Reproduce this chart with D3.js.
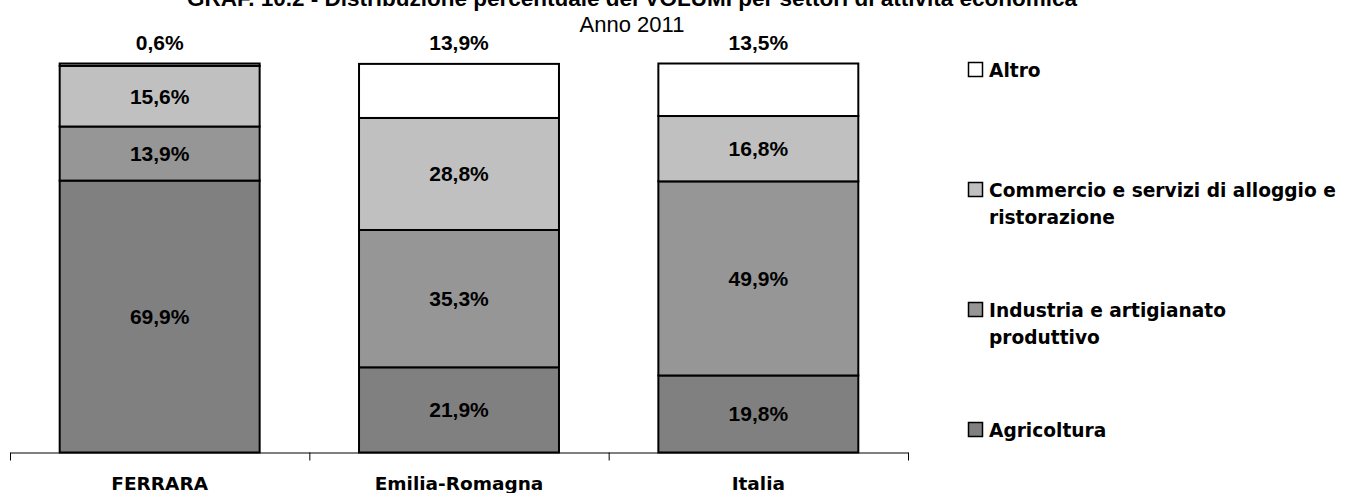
<!DOCTYPE html>
<html lang="it">
<head>
<meta charset="utf-8">
<script src="https://cdn.jsdelivr.net/npm/d3@7/dist/d3.min.js"></script>
<style>
  html, body { margin: 0; padding: 0; background: #fff; }
  svg { display: block; }
</style>
</head>
<body>
<svg id="chart" width="1345" height="493"></svg>
<script>
// Territori confrontati
const categories = ["FERRARA", "Emilia-Romagna", "Italia"];

// Settori, dal basso verso l'alto della pila
const sectors = ["Agricoltura", "Industria e artigianato produttivo", "Commercio e servizi di alloggio e ristorazione", "Altro"];

// Quote percentuali per settore (ordine come categories)
const agricoltura = [69.9, 21.9, 19.8];
const industria   = [13.9, 35.3, 49.9];
const commercio   = [15.6, 28.8, 16.8];
const altro       = [0.6, 13.9, 13.5];

const sectorColors = ["#808080", "#969696", "#c0c0c0", "#ffffff"];

// Righe della legenda, dall'alto
const legendLines = [
  ["Altro"],
  ["Commercio e servizi di alloggio e", "ristorazione"],
  ["Industria e artigianato", "produttivo"],
  ["Agricoltura"]
];
const legendFills = ["#ffffff", "#c0c0c0", "#969696", "#808080"];

const titleText = "GRAF. 10.2 - Distribuzione percentuale dei VOLUMI per settori di attività economica";
const subtitleText = "Anno 2011";

const fmt = v => d3.format(".1f")(v).replace(".", ",") + "%";

const svg = d3.select("#chart");

const plotLeft = 10, plotRight = 908, plotTop = 63.5, plotBottom = 452.5;

const x = d3.scaleBand().domain(categories).range([plotLeft, plotRight]).padding(0);
const barW = x.bandwidth() * 0.668;
const y = d3.scaleLinear().domain([0, 100]).range([plotBottom, plotTop]);

// Titolo e sottotitolo
svg.append("text")
  .attr("x", 632).attr("y", 6)
  .attr("text-anchor", "middle")
  .attr("font-family", "'Liberation Sans', Arial, sans-serif")
  .attr("font-weight", "bold").attr("font-size", 22.5)
  .text(titleText);
svg.append("text")
  .attr("x", 632).attr("y", 32)
  .attr("text-anchor", "middle")
  .attr("font-family", "'Liberation Sans', Arial, sans-serif")
  .attr("font-size", 22)
  .text(subtitleText);

// Pile
const seriesValues = [agricoltura, industria, commercio, altro];
const rows = categories.map((c, i) => {
  const r = { cat: c };
  sectors.forEach((s, k) => { r[s] = seriesValues[k][i]; });
  return r;
});
const stacked = d3.stack().keys(sectors)(rows);

const layer = svg.append("g").selectAll("g")
  .data(stacked).join("g")
  .attr("fill", (d, k) => sectorColors[k]);

layer.selectAll("rect")
  .data(d => d)
  .join("rect")
  .attr("x", d => x(d.data.cat) + (x.bandwidth() - barW) / 2)
  .attr("width", barW)
  .attr("y", d => y(d[1]))
  .attr("height", d => y(d[0]) - y(d[1]))
  .attr("stroke", "#000")
  .attr("stroke-width", 2);

// Etichette dei valori
const labelFont = "'Liberation Sans', Arial, sans-serif";
stacked.forEach((ser, k) => {
  ser.forEach(d => {
    const cx = x(d.data.cat) + x.bandwidth() / 2;
    const isTop = k === sectors.length - 1;
    const ty = isTop ? 50 : (y(d[0]) + y(d[1])) / 2 + 7.5;
    svg.append("text")
      .attr("x", cx).attr("y", ty)
      .attr("text-anchor", "middle")
      .attr("font-family", labelFont)
      .attr("font-weight", "bold").attr("font-size", 21)
      .attr("fill", "#000")
      .text(fmt(d[1] - d[0]));
  });
});

// Asse orizzontale con tacche ai bordi delle categorie
const edge = d3.scaleLinear().domain([0, categories.length]).range([plotLeft, plotRight]);
const axisG = svg.append("g")
  .attr("transform", `translate(0,${plotBottom})`)
  .call(d3.axisBottom(edge).tickValues(d3.range(categories.length + 1))
    .tickSize(8).tickSizeOuter(0).tickFormat(""));
axisG.select(".domain").attr("stroke", "#000").attr("stroke-width", 1);
axisG.selectAll(".tick line").attr("stroke", "#000");

svg.append("g").selectAll("text")
  .data(categories).join("text")
  .attr("x", d => x(d) + x.bandwidth() / 2)
  .attr("y", 490)
  .attr("text-anchor", "middle")
  .attr("font-family", "'DejaVu Sans', Verdana, sans-serif")
  .attr("font-weight", "bold").attr("font-size", 18.5)
  .text(d => d);

// Legenda
const legendY = [70, 190, 310, 430];
const lg = svg.append("g");
legendLines.forEach((lines, i) => {
  const cy = legendY[i];
  lg.append("rect")
    .attr("x", 968.5).attr("y", cy - 7.5)
    .attr("width", 14).attr("height", 14)
    .attr("fill", legendFills[i]).attr("stroke", "#000").attr("stroke-width", 1.5);
  lines.forEach((ln, j) => {
    lg.append("text")
      .attr("x", 989).attr("y", cy + 7 + j * 27)
      .attr("font-family", "'DejaVu Sans', Verdana, sans-serif")
      .attr("font-weight", "bold").attr("font-size", 18.6)
      .text(ln);
  });
});
</script>
</body>
</html>
